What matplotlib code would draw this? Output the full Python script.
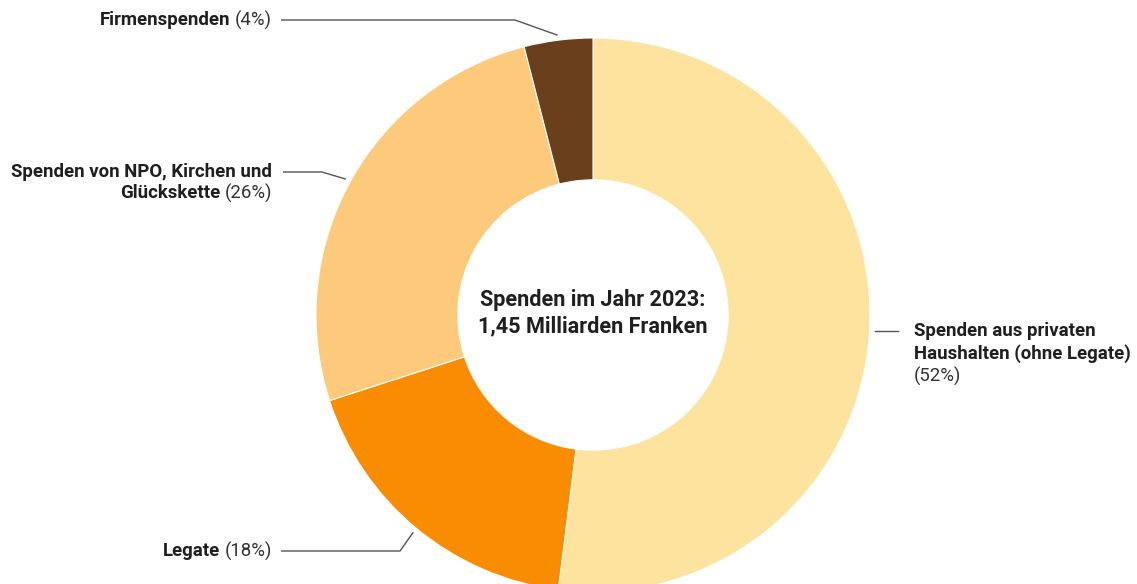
import matplotlib
matplotlib.use('Agg')
import matplotlib.pyplot as plt
import numpy as np

# Spendenvolumen 2023 nach Herkunft (Anteile in %)
labels = ['Spenden aus privaten Haushalten (ohne Legate)', 'Legate',
          'Spenden von NPO, Kirchen und Glückskette', 'Firmenspenden']
shares = [52, 18, 26, 4]
colors = ['#FEE39F', '#F98C00', '#FDC97A', '#6A3F1B']

W, H = 1137, 584
CX, CY, R = 593, H - 315, 277
INK = '#1f1f1f'
LINE = '#555555'
FS = 13.4

plt.rcParams['font.family'] = ['Roboto', 'DejaVu Sans']

fig = plt.figure(figsize=(W / 100, H / 100), dpi=100)
ax = fig.add_axes([0, 0, 1, 1])

wedges, _ = ax.pie(shares, colors=colors, startangle=90, counterclock=False,
                   center=(CX, CY), radius=R, frame=True,
                   wedgeprops=dict(width=R * 0.512, edgecolor='white', linewidth=0.8))
ax.set_xlim(0, W)
ax.set_ylim(0, H)
ax.set_aspect('equal')
ax.axis('off')

ax.text(CX, H - 300, 'Spenden im Jahr 2023:', ha='center', va='center',
        fontsize=15.6, fontweight='bold', color=INK)
ax.text(CX, H - 326, '1,45 Milliarden Franken', ha='center', va='center',
        fontsize=15.6, fontweight='bold', color=INK)

renderer = fig.canvas.get_renderer()


def put_line(x, y, parts, ha='left'):
    # parts: list of (text, weight); gap between parts like a space
    gap = 4.5
    seq = parts if ha == 'left' else parts[::-1]
    for s, w in seq:
        t = ax.text(x, y, s, ha=ha, va='center', fontsize=FS, fontweight=w,
                    color=INK if w == 'bold' else '#333333')
        width = t.get_window_extent(renderer).width
        x = x + width + gap if ha == 'left' else x - width - gap


def anchor(w, off=5):
    mid = np.deg2rad((w.theta1 + w.theta2) / 2)
    return CX + (R + off) * np.cos(mid), CY + (R + off) * np.sin(mid)


def leader(w, xs, y):
    ax_, ay_ = anchor(w)
    ax.plot(xs + [ax_], [y] * len(xs) + [ay_], color=LINE, lw=1,
            solid_capstyle='butt')


w_priv, w_leg, w_npo, w_firm = wedges

# Firmenspenden
y = H - 20
put_line(272, y, [('Firmenspenden', 'bold'), ('(4%)', 'normal')], ha='right')
leader(w_firm, [281, 515], y)

# NPO, Kirchen, Glückskette
y = H - 172
put_line(272, y, [('Spenden von NPO, Kirchen und', 'bold')], ha='right')
put_line(272, y - 21.5, [('Glückskette', 'bold'), ('(26%)', 'normal')], ha='right')
leader(w_npo, [283, 322], y)

# Private Haushalte
y = H - 331
put_line(914, y, [('Spenden aus privaten', 'bold')])
put_line(914, y - 22.5, [('Haushalten (ohne Legate)', 'bold')])
put_line(914, y - 45, [('(52%)', 'normal')])
ax_, ay_ = anchor(w_priv, 6)
ax.plot([ax_, 898], [y, y], color=LINE, lw=1)

# Legate
y = H - 551
put_line(272, y, [('Legate', 'bold'), ('(18%)', 'normal')], ha='right')
leader(w_leg, [281, 400], y)

fig.savefig('out.png', dpi=100)
